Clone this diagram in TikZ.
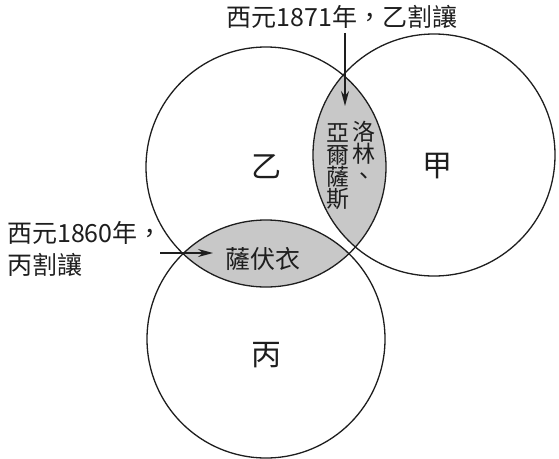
\documentclass[tikz,border=0pt]{standalone}
\usepackage{fontspec}
\setmainfont{Noto Sans CJK TC}
\usetikzlibrary{arrows.meta}
\definecolor{lensgray}{RGB}{200,200,200}
\definecolor{ink}{RGB}{30,30,30}
\tikzset{
  ring/.style={draw=ink, line width=1.3pt},
  lens/.style={fill=lensgray},
  pointer/.style={draw=ink, line width=1.1pt, -{Stealth[length=15pt,width=8pt]}},
  label/.style={inner sep=0pt, font=\fontsize{25}{32}\selectfont, text=ink},
  region/.style={inner sep=0pt, font=\fontsize{30}{30}\selectfont, text=ink},
  column/.style={inner sep=0pt, align=center, font=\fontsize{23}{22}\selectfont, text=ink},
}
\begin{document}
\begin{tikzpicture}[x=1pt,y=-1pt]
\useasboundingbox (0,0) rectangle (559,458);
\fill[white] (0,0) rectangle (559,458);

% circle centres
\coordinate (cA) at (434,155); % 甲
\coordinate (cB) at (266,167); % 乙
\coordinate (cC) at (266,339); % 丙

% shaded overlaps
\begin{scope}
  \clip (cA) circle (121);
  \fill[lens] (cB) circle (120);
\end{scope}
\begin{scope}
  \clip (cB) circle (120);
  \fill[lens] (cC) circle (119);
\end{scope}

% circles
\draw[ring] (cA) circle (121);
\draw[ring] (cB) circle (120);
\draw[ring] (cC) circle (119);

% region names
\node[region] (jia) at (437,166) {甲};
\node[region] (yi)  at (266,167) {乙};
\node[region] (bing) at (266,355) {丙};

% ceded territories
\node[column, anchor=north] (lorraine) at (364,121) {洛\\林\\、};
\node[column, anchor=north] (alsace)   at (338,123) {亞\\爾\\薩\\斯};
\node[label] (savoy) at (263,259) {薩伏衣};

% annotations
\node[label] (note1871) at (342,17) {西元1871年，乙割讓};
\node[label, align=left, anchor=west] (note1860) at (7,249) {西元1860年，\\丙割讓};

\coordinate (tip1871) at (345,106);
\coordinate (from1860) at (160,253);
\coordinate (tip1860) at (213,253);

\draw[pointer] (note1871.south -| tip1871) ++(0,4) -- (tip1871);
\draw[pointer] (from1860) -- (tip1860);
\end{tikzpicture}
\end{document}
